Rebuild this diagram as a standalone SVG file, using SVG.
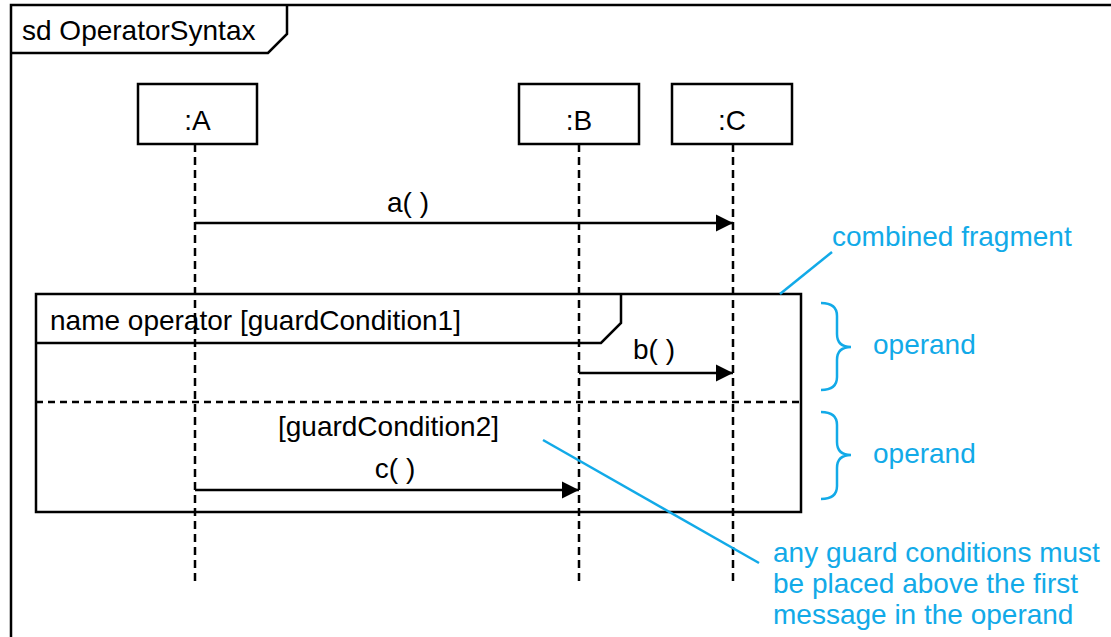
<svg xmlns="http://www.w3.org/2000/svg" width="1111" height="637" viewBox="0 0 1111 637">
<style>
text{font-family:"Liberation Sans",Arial,Helvetica,sans-serif;font-size:28px;fill:#000}
.ln{fill:none;stroke:#000;stroke-width:2.5}
.box{fill:#fff;stroke:#000;stroke-width:2.5}
.life{stroke:#000;stroke-width:2.5;stroke-dasharray:8,5}
.sep{stroke:#000;stroke-width:2.5;stroke-dasharray:7,5}
.msg{stroke:#000;stroke-width:2.5;fill:none}
.note{fill:#12aae8}
.nl{stroke:#12aae8;stroke-width:2.5;fill:none}
.c{text-anchor:middle}
</style>
<defs>
<marker id="arr" markerWidth="18" markerHeight="18" viewBox="0 0 18 18" refX="17" refY="9" orient="auto" markerUnits="userSpaceOnUse">
<path d="M0,0.5 L17,9 L0,17.5 Z" fill="#000"/>
</marker>
</defs>
<rect width="1111" height="637" fill="#fff"/>
<g id="frame">
<path class="ln" d="M11,637 V5 H1111"/>
<path class="ln" d="M11,53 H268 L287,34 V5"/>
<text x="22" y="40">sd OperatorSyntax</text>
</g>
<g id="lifelineA">
<line class="life" x1="195" y1="144" x2="195" y2="583"/>
<rect class="box" x="138" y="84" width="119" height="60"/>
<text class="c" x="197.5" y="130">:A</text>
</g>
<g id="lifelineB">
<line class="life" x1="579" y1="144" x2="579" y2="583"/>
<rect class="box" x="519" y="84" width="120" height="60"/>
<text class="c" x="579" y="130">:B</text>
</g>
<g id="lifelineC">
<line class="life" x1="733" y1="144" x2="733" y2="583"/>
<rect class="box" x="672" y="84" width="120" height="60"/>
<text class="c" x="732" y="130">:C</text>
</g>
<g id="fragment">
<rect class="ln" x="36" y="294" width="765" height="218"/>
<path class="ln" d="M36,343 H601 L621,323 V294"/>
<text x="50" y="330">name operator [guardCondition1]</text>
<line class="sep" x1="36" y1="402" x2="801" y2="402"/>
<text class="c" x="388.5" y="436">[guardCondition2]</text>
</g>
<g id="connectors">
<line class="msg" x1="195" y1="223" x2="733" y2="223" marker-end="url(#arr)"/>
<text class="c" x="408" y="212">a( )</text>
<line class="msg" x1="579" y1="373" x2="733" y2="373" marker-end="url(#arr)"/>
<text class="c" x="654" y="359">b( )</text>
<line class="msg" x1="195" y1="490" x2="579" y2="490" marker-end="url(#arr)"/>
<text class="c" x="395" y="478">c( )</text>
</g>
<g id="annotations">
<line class="nl" x1="780" y1="294" x2="832" y2="252"/>
<text class="note" x="832" y="246">combined fragment</text>
<path class="nl" d="M821,303 Q837,303 837,316 V334 Q837,347 851,347 Q837,347 837,360 V377 Q837,390 821,390"/>
<text class="note" x="873" y="354">operand</text>
<path class="nl" d="M821,412 Q837,412 837,425 V442 Q837,455 851,455 Q837,455 837,468 V486 Q837,499 821,499"/>
<text class="note" x="873" y="463">operand</text>
<line class="nl" x1="543" y1="440" x2="759" y2="563"/>
<text class="note" x="773" y="562">any guard conditions must</text>
<text class="note" x="773" y="593">be placed above the first</text>
<text class="note" x="773" y="624">message in the operand</text>
</g>
</svg>
